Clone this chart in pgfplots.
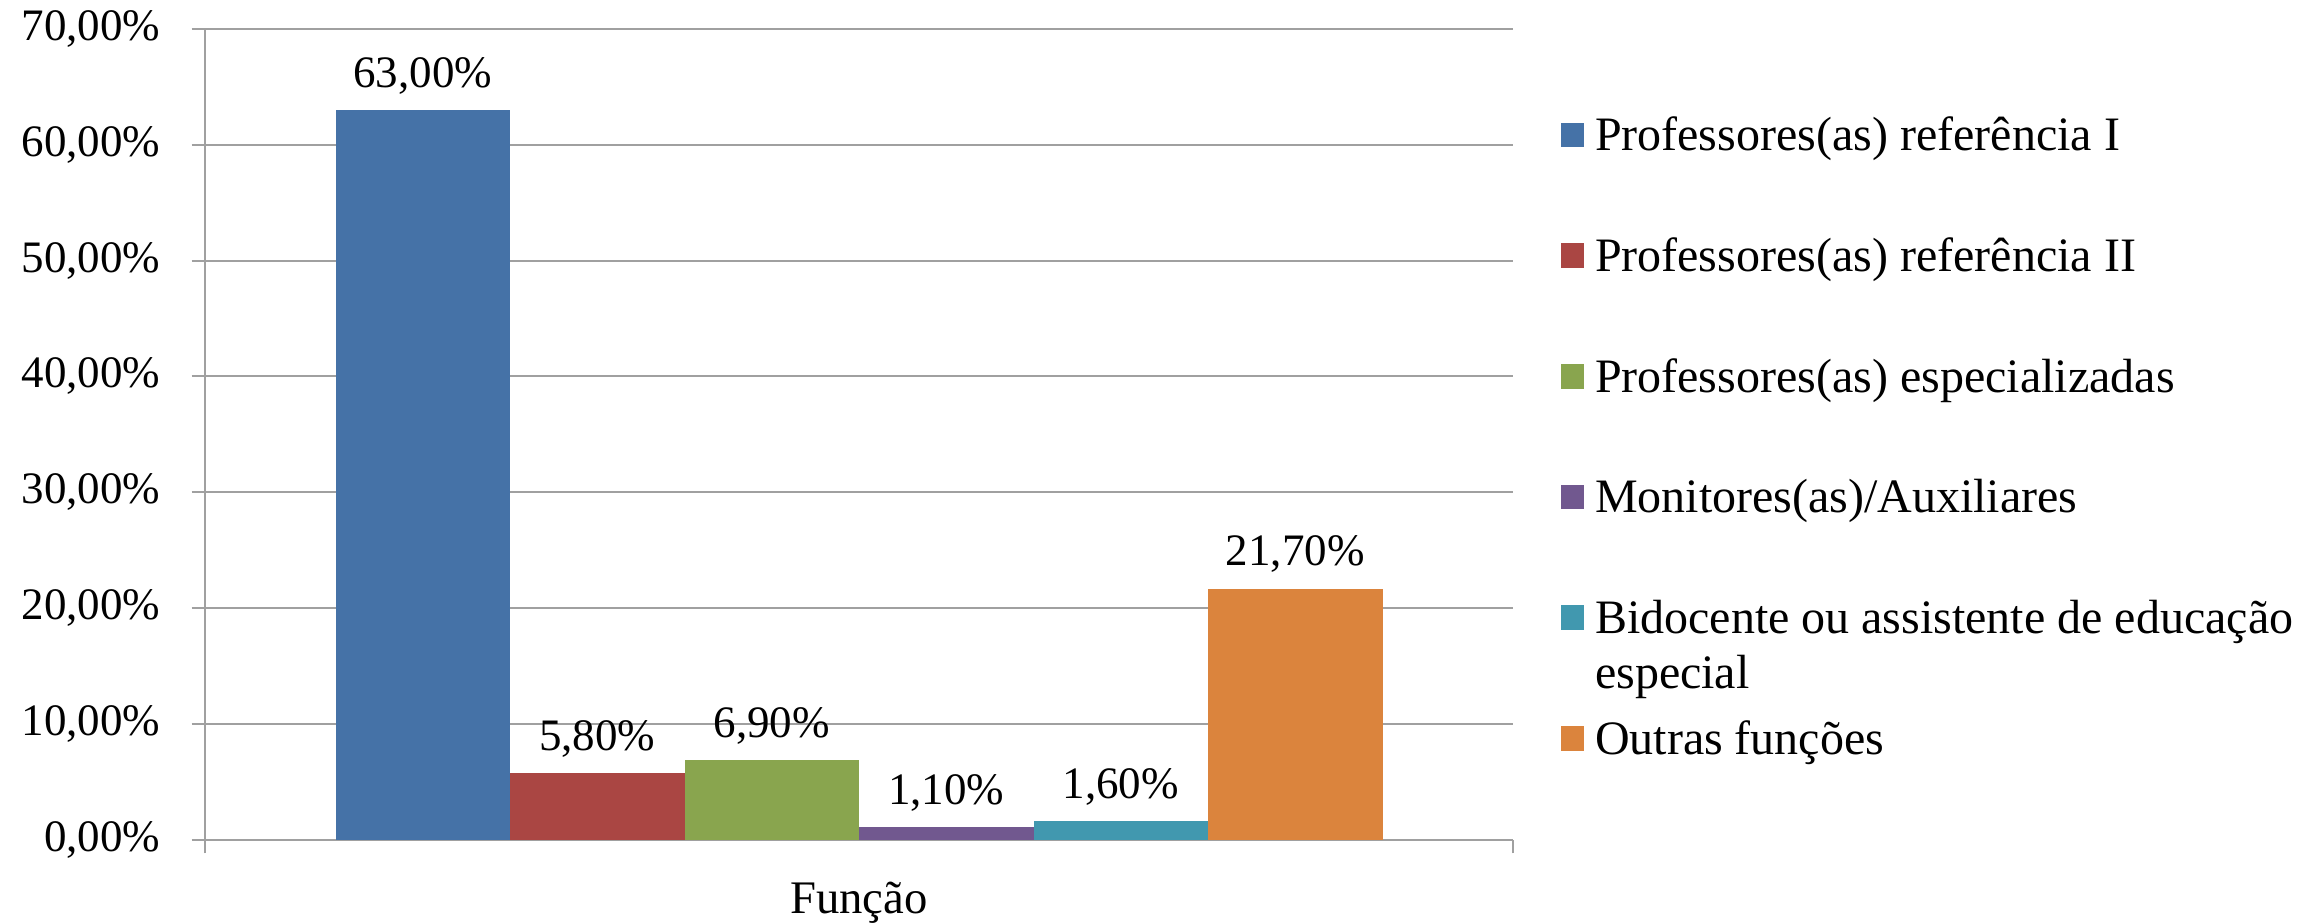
\documentclass[border=0pt]{standalone}
\usepackage{fontspec}
\setmainfont{Liberation Serif}
\usepackage{pgfplots}
\pgfplotsset{compat=1.18}
\definecolor{c1}{HTML}{4572A7}
\definecolor{c2}{HTML}{AA4643}
\definecolor{c3}{HTML}{89A54E}
\definecolor{c4}{HTML}{71588F}
\definecolor{c5}{HTML}{4198AF}
\definecolor{c6}{HTML}{DB843D}
\definecolor{gridc}{RGB}{160,160,160}
\begin{document}
\fontsize{13.5}{16.5}\selectfont
\begin{tikzpicture}
\begin{axis}[
  scale only axis,
  width=392.4pt, height=243.4pt,
  xmin=-1.248, xmax=6.248,
  ymin=0, ymax=70,
  ybar, bar width=1, bar shift=0pt,
  axis x line*=bottom, axis y line*=left,
  axis line style={gridc, line width=0.6pt, -},
  ytick={0,10,...,70},
  yticklabel={\pgfmathprintnumber[fixed,fixed zerofill,precision=2,use comma]{\tick}\%},
  /pgf/number format/assume math mode=true,
  ymajorgrids, major grid style={gridc, line width=0.6pt},
  xtick={-1.248,6.248}, xticklabels={,},
  tick align=outside, major tick length=4pt,
  tick style={gridc, line width=0.6pt},
  yticklabel style={xshift=-4.7pt},
  xlabel={Função},
  xlabel style={yshift=5.3pt, font=\fontsize{14}{16.5}\selectfont},
  nodes near coords, point meta=explicit symbolic,
  every node near coord/.append style={black},
  legend cell align=left,
  legend style={draw=none, fill=none, at={(1,0.91)}, xshift=14.1pt, anchor=north west,
    inner sep=0pt, row sep=13.7pt, column sep=0pt,
    font=\fontsize{14.4}{16.4}\selectfont,
    nodes={inner xsep=3.3pt, inner ysep=4.5pt, text height=10pt, text depth=3.5pt}},
  legend image code/.code={\fill[#1] (0pt,-2.2pt) rectangle (7pt,5.2pt);},
]
\addplot[fill=c1, draw=none] coordinates {(0,63.0) [63,00\%]};
\addplot[fill=c2, draw=none] coordinates {(1,5.8) [5,80\%]};
\addplot[fill=c3, draw=none] coordinates {(2,6.9) [6,90\%]};
\addplot[fill=c4, draw=none] coordinates {(3,1.1) [1,10\%]};
\addplot[fill=c5, draw=none] coordinates {(4,1.6) [1,60\%]};
\addplot[fill=c6, draw=none] coordinates {(5,21.7) [21,70\%]};
\legend{Professores(as) referência I, Professores(as) referência II, Professores(as) especializadas, Monitores(as)/Auxiliares, {\smash{\begin{tabular}[t]{@{}l@{}}Bidocente ou assistente de educação\\especial\end{tabular}}}, Outras funções}
\end{axis}
\pgfresetboundingbox
\path[use as bounding box] (-61.5pt,-24.6pt) rectangle (633.9pt,252pt);
\end{tikzpicture}
\end{document}
